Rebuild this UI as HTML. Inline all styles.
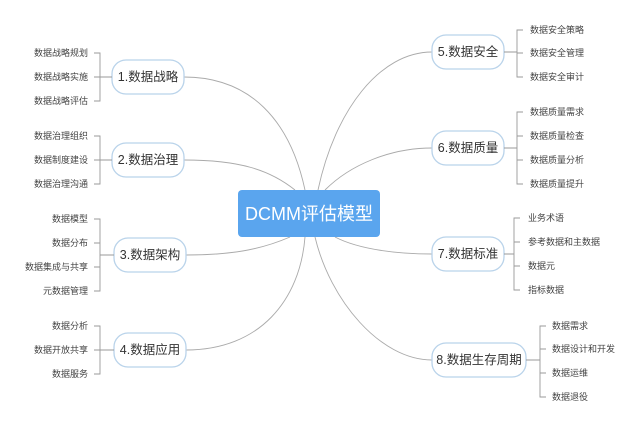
<!DOCTYPE html>
<html><head><meta charset="utf-8"><style>
html,body{margin:0;padding:0;background:#fff;}
svg{display:block;}
text{font-family:"Liberation Sans","Noto Sans CJK SC",sans-serif;}
.n{fill:#fff;stroke:#b9d3ea;stroke-width:1.3;}
.nt{font-size:12.5px;fill:#333;text-anchor:middle;dominant-baseline:central;}
.l{font-size:9px;fill:#444;dominant-baseline:central;}
.c{fill:none;stroke:#aaa;stroke-width:0.9;}
.b{fill:none;stroke:#999;stroke-width:0.9;}
</style></head><body>
<svg width="640" height="426" viewBox="0 0 640 426">
<!-- connectors -->
<path class="c" d="M305,190 C290,120 250,77 184,77"/>
<path class="c" d="M295,190 C270,170 240,160 184,160"/>
<path class="c" d="M290,237 C260,250 230,255 186,255"/>
<path class="c" d="M305,237 C300,300 260,350 186,350"/>
<path class="c" d="M318,190 C335,110 380,52 432,52"/>
<path class="c" d="M325,190 C350,165 390,148 432,148"/>
<path class="c" d="M335,237 C360,250 400,254 432,254"/>
<path class="c" d="M315,237 C330,300 380,360 432,360"/>
<!-- center -->
<rect x="238" y="190" width="142" height="47" rx="4" fill="#5aa5ee"/>
<text x="309" y="214" font-size="18" fill="#fff" text-anchor="middle" dominant-baseline="central">DCMM评估模型</text>
<!-- left nodes -->
<rect class="n" x="112" y="60" width="72" height="34" rx="14"/><text class="nt" x="148" y="77">1.数据战略</text>
<rect class="n" x="112" y="143" width="72" height="34" rx="14"/><text class="nt" x="148" y="160">2.数据治理</text>
<rect class="n" x="114" y="238" width="72" height="34" rx="14"/><text class="nt" x="150" y="255">3.数据架构</text>
<rect class="n" x="114" y="333" width="72" height="34" rx="14"/><text class="nt" x="150" y="350">4.数据应用</text>
<!-- right nodes -->
<rect class="n" x="432" y="35" width="72" height="34" rx="14"/><text class="nt" x="468" y="52">5.数据安全</text>
<rect class="n" x="432" y="131" width="72" height="34" rx="14"/><text class="nt" x="468" y="148">6.数据质量</text>
<rect class="n" x="432" y="237" width="72" height="34" rx="14"/><text class="nt" x="468" y="254">7.数据标准</text>
<rect class="n" x="432" y="343" width="94" height="34" rx="14"/><text class="nt" x="479" y="360">8.数据生存周期</text>
<!-- left brackets -->
<path class="b" d="M94,53 H100 V101 H94 M94,77 H112"/>
<path class="b" d="M94,136 H100 V184 H94 M94,160 H112"/>
<path class="b" d="M94,219 H100 V291 H94 M94,243 H100 M94,267 H100 M100,255 H114"/>
<path class="b" d="M94,326 H100 V374 H94 M94,350 H114"/>
<g class="l" text-anchor="end">
<text x="88" y="53">数据战略规划</text><text x="88" y="77">数据战略实施</text><text x="88" y="101">数据战略评估</text>
<text x="88" y="136">数据治理组织</text><text x="88" y="160">数据制度建设</text><text x="88" y="184">数据治理沟通</text>
<text x="88" y="219">数据模型</text><text x="88" y="243">数据分布</text><text x="88" y="267">数据集成与共享</text><text x="88" y="291">元数据管理</text>
<text x="88" y="326">数据分析</text><text x="88" y="350">数据开放共享</text><text x="88" y="374">数据服务</text>
</g>
<!-- right brackets -->
<path class="b" d="M504,52 H517 M523,30 H517 V77 H523 M517,53 H523"/>
<path class="b" d="M504,148 H517 M523,112 H517 V184 H523 M517,136 H523 M517,160 H523"/>
<path class="b" d="M504,254 H514 M520,218 H514 V290 H520 M514,242 H520 M514,266 H520"/>
<path class="b" d="M526,360 H540 M546,326 H540 V397 H546 M540,349 H546 M540,373 H546"/>
<g class="l" text-anchor="start">
<text x="530" y="30">数据安全策略</text><text x="530" y="53">数据安全管理</text><text x="530" y="77">数据安全审计</text>
<text x="530" y="112">数据质量需求</text><text x="530" y="136">数据质量检查</text><text x="530" y="160">数据质量分析</text><text x="530" y="184">数据质量提升</text>
<text x="528" y="218">业务术语</text><text x="528" y="242">参考数据和主数据</text><text x="528" y="266">数据元</text><text x="528" y="290">指标数据</text>
<text x="552" y="326">数据需求</text><text x="552" y="349">数据设计和开发</text><text x="552" y="373">数据运维</text><text x="552" y="397">数据退役</text>
</g>
</svg>
</body></html>
